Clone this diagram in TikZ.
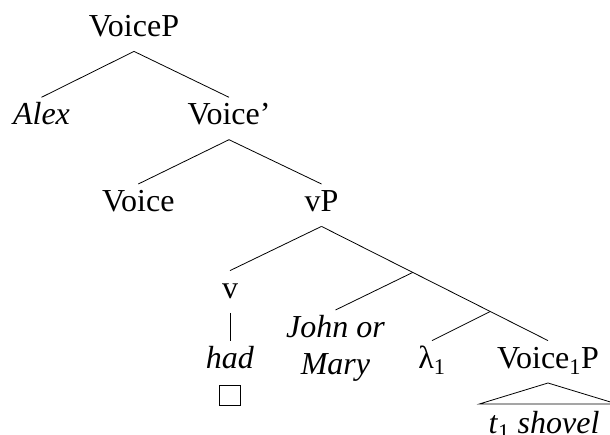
\documentclass[tikz,border=0pt]{standalone}
\usepackage{fontspec}
\setmainfont{Liberation Serif}
\usetikzlibrary{calc}
\begin{document}
\begin{tikzpicture}[x=1pt,y=-1pt,
  every node/.style={font=\fontsize{32}{36.7}\selectfont},
  cat/.style={anchor=base, text height=22pt, text depth=9pt, inner xsep=0pt, inner ysep=5.5pt},
  branch/.style={line width=0.8pt}]
\useasboundingbox (0,0) rectangle (610,435);
\clip (0,0) rectangle (610,435);
\node[cat] (voicep) at (134,36.7) {VoiceP};
\node[cat] (alex) at (41.5,125) {\textit{Alex}};
\node[cat] (voicebar) at (229,125) {Voice'};
\node[cat] (voice) at (138.3,211.7) {Voice};
\node[cat] (vp) at (321.5,211.7) {vP};
\node[cat] (v) at (230,298.3) {v};
\node[cat] (had) at (230,368.3) {\textit{had}};
\node[draw, line width=0.8pt, minimum size=20.5pt, inner sep=0pt] (box) at (230,395.5) {};
\node[align=center, anchor=north, inner xsep=0pt, inner ysep=5.5pt] (john) at (335.5,310) {\textit{John or}\\\textit{Mary}};
\node[cat] (lambda) at (432,368.3) {λ\textsubscript{1}};
\node[cat] (voice1p) at (548,368.3) {Voice\textsubscript{1}P};
\node[cat] (shovel) at (544,433.5) {\textit{t}\textsubscript{1} \textit{shovel}};
\coordinate (b1) at ($(vp.south)!0.403!(voice1p.north)$);
\coordinate (b2) at ($(vp.south)!0.745!(voice1p.north)$);
\coordinate (tl) at (479.3,404);
\coordinate (tr) at (617,404);
\draw[branch] (voicep.south) -- (alex.north);
\draw[branch] (voicep.south) -- (voicebar.north);
\draw[branch] (voicebar.south) -- (voice.north);
\draw[branch] (voicebar.south) -- (vp.north);
\draw[branch] (vp.south) -- (v.north);
\draw[branch] (vp.south) -- (voice1p.north);
\draw[branch] (b1) -- (john.north);
\draw[branch] (b2) -- (lambda.north);
\draw[branch] (v.south) -- (had.north);
\draw[branch] (voice1p.south) -- (tl) -- (tr) -- cycle;
\end{tikzpicture}
\end{document}
